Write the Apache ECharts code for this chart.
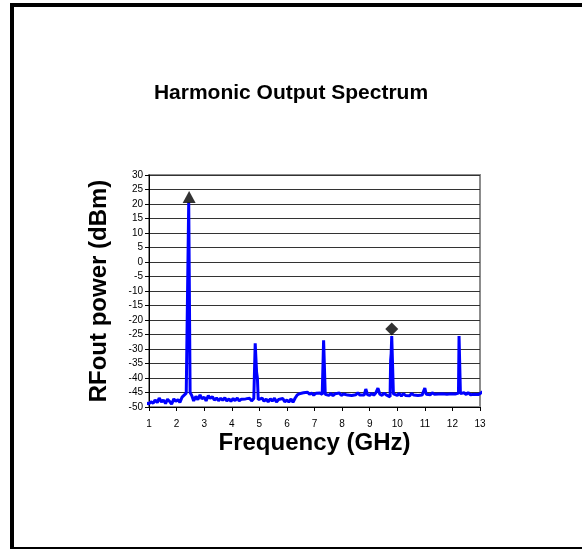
<!DOCTYPE html>
<html>
<head>
<meta charset="utf-8">
<script src="https://cdn.jsdelivr.net/npm/echarts@6/dist/echarts.min.js"></script>
<style>
  html, body { margin: 0; padding: 0; background: #fff; }
  #chart { width: 582px; height: 550px; }
</style>
</head>
<body>
<div id="chart"></div>
<script>
// spectrum trace (GHz, dBm)
var freqGHz = [
  0.85, 0.92, 1.0, 1.07, 1.15, 1.22, 1.3, 1.37, 1.45, 1.52, 1.6, 1.67, 1.75, 1.82, 1.9, 1.97, 2.05, 2.12, 2.2, 2.27, 2.35,
  2.42, 2.44, 2.47, 2.49,
  2.55, 2.62, 2.7, 2.77, 2.85, 2.92, 3.0, 3.07, 3.15, 3.22, 3.3, 3.37, 3.45, 3.52, 3.6, 3.67, 3.75, 3.82, 3.9, 3.97,
  4.05, 4.12, 4.2, 4.27, 4.35, 4.42, 4.5, 4.57, 4.65, 4.72, 4.8,
  4.85, 4.88, 4.90, 4.93, 4.96,
  5.02, 5.1, 5.17, 5.25, 5.32, 5.4, 5.47, 5.55, 5.62, 5.7, 5.77, 5.85, 5.92, 6.0, 6.07, 6.15, 6.22, 6.3,
  6.37, 6.45, 6.52, 6.6, 6.67, 6.75, 6.82, 6.9, 6.97, 7.05, 7.12, 7.2, 7.28,
  7.33, 7.36, 7.39,
  7.45, 7.52, 7.6, 7.67, 7.75, 7.82, 7.9, 7.97, 8.05, 8.12, 8.2, 8.27, 8.35, 8.42, 8.5, 8.57, 8.65, 8.72, 8.8, 8.86,
  8.92, 9.0, 9.07, 9.15, 9.22, 9.3, 9.37, 9.45, 9.52, 9.6, 9.67, 9.74,
  9.76, 9.78, 9.80, 9.83, 9.86,
  9.92, 10.0, 10.07, 10.15, 10.22, 10.3, 10.37, 10.45, 10.52, 10.6, 10.67, 10.75, 10.82, 10.9, 10.96, 11.0, 11.05,
  11.12, 11.2, 11.27, 11.35, 11.42, 11.5, 11.57, 11.65, 11.72, 11.8, 11.87, 11.95, 12.02, 12.1, 12.17, 12.22,
  12.24, 12.27, 12.29,
  12.35, 12.42, 12.5, 12.57, 12.65, 12.72, 12.8, 12.87, 12.95, 13.02, 13.1, 13.15
];
var powerDbm = [
  -48.6, -48.0, -48.9, -48.2, -48.7, -47.6, -48.5, -46.9, -48.3, -47.6, -48.8, -47.3, -48.1, -49.0, -47.2, -48.0, -47.5, -48.4, -46.6, -46.9, -45.2,
  -45.6, 20.5, 20.5, -45.0,
  -46.0, -47.9, -46.3, -47.5, -45.8, -47.2, -46.6, -47.9, -46.1, -47.0, -46.5, -47.6, -46.9, -47.8, -47.0, -47.7, -46.8, -47.9, -47.2, -48.0,
  -47.1, -47.8, -46.9, -47.9, -47.3, -47.9, -47.2, -47.8, -47.0, -47.9, -47.1,
  -28.0, -27.8, -38.0, -40.0, -47.5,
  -48.1, -46.9, -48.0, -47.3, -48.2, -47.2, -47.9, -47.0, -48.3, -47.4, -48.0, -47.1, -48.2, -47.6, -48.3, -47.2, -48.4, -46.9,
  -45.9, -45.4, -46.0, -45.1, -45.7, -44.9, -45.6, -45.2, -45.9, -45.3, -45.8, -45.2, -45.7,
  -27.0, -27.0, -45.6,
  -45.2, -46.0, -45.3, -46.1, -45.4, -45.9, -45.2, -46.0, -45.5, -45.1, -45.9, -45.3, -46.0, -45.4, -45.8, -45.1, -45.9, -45.3, -45.9, -43.8,
  -45.7, -46.0, -45.3, -45.9, -45.2, -43.5, -45.6, -46.0, -45.2, -45.8, -45.4, -46.5,
  -34.0, -31.5, -25.5, -25.5, -45.5,
  -45.0, -46.0, -45.3, -46.2, -45.4, -46.0, -45.5, -46.1, -45.3, -45.9, -45.4, -46.0, -45.5, -45.9, -45.3, -43.5, -45.6,
  -45.2, -45.8, -45.1, -45.6, -45.0, -45.5, -44.9, -45.4, -45.0, -45.6, -45.1, -45.4, -45.0, -45.5, -45.7, -45.2,
  -25.5, -25.5, -45.4,
  -45.9, -45.1, -45.7, -45.0, -45.8, -45.2, -45.6, -45.0, -45.7, -45.1, -44.7, -44.5
];
// black markers on the fundamental and the 4th harmonic
var triangleMark = [[2.455, 22.4]];
var diamondMark = [[9.80, -23.1]];

var trace = freqGHz.map(function (f, i) { return [f, powerDbm[i]]; });

var chart = echarts.init(document.getElementById('chart'));
var font = 'Arial, "Liberation Sans", sans-serif';
var option = {
  animation: false,
  backgroundColor: '#fff',
  title: {
    text: 'Harmonic Output Spectrum',
    left: 'center',
    top: 78,
    textStyle: { fontFamily: font, fontSize: 21, fontWeight: 'bold', color: '#000' }
  },
  grid: {
    left: 149, top: 175, right: 102, bottom: 143,
    show: true, borderColor: '#8c8c8c', borderWidth: 2, backgroundColor: '#fff'
  },
  xAxis: {
    type: 'value', min: 1, max: 13, interval: 1,
    name: 'Frequency (GHz)', nameLocation: 'middle', nameGap: 24,
    nameTextStyle: { fontFamily: font, fontSize: 24, fontWeight: 'bold', color: '#000' },
    axisLine: { onZero: false, lineStyle: { color: '#000', width: 1 } },
    axisTick: { show: true, length: 4, lineStyle: { color: '#000' } },
    axisLabel: { fontFamily: font, fontSize: 10, color: '#000', margin: 12 },
    splitLine: { show: false }
  },
  yAxis: {
    type: 'value', min: -50, max: 30, interval: 5,
    name: 'RFout power (dBm)', nameLocation: 'middle', nameGap: 38,
    nameTextStyle: { fontFamily: font, fontSize: 24, fontWeight: 'bold', color: '#000' },
    axisLine: { show: true, onZero: false, lineStyle: { color: '#000', width: 1 } },
    axisTick: { show: true, length: 4, lineStyle: { color: '#000' } },
    axisLabel: { fontFamily: font, fontSize: 10, color: '#000', margin: 6 },
    splitLine: { show: true, lineStyle: { color: '#333', width: 1 } }
  },
  series: [
    {
      type: 'line', data: trace, showSymbol: false, symbol: 'none', clip: false,
      lineStyle: { color: '#0000ff', width: 3 }, z: 3
    },
    {
      type: 'scatter', data: triangleMark, symbol: 'triangle', symbolSize: [13, 12],
      itemStyle: { color: '#000' }, z: 4
    },
    {
      type: 'scatter', data: diamondMark, symbol: 'diamond', symbolSize: [13, 13],
      itemStyle: { color: '#000' }, z: 4
    }
  ],
  graphic: [
    { type: 'rect', shape: { x: 10, y: 3, width: 4, height: 546 }, style: { fill: '#000' } },
    { type: 'rect', shape: { x: 10, y: 3, width: 572, height: 4 }, style: { fill: '#000' } },
    { type: 'rect', shape: { x: 10, y: 547, width: 572, height: 2 }, style: { fill: '#000' } }
  ]
};
chart.setOption(option);
</script>
</body>
</html>
